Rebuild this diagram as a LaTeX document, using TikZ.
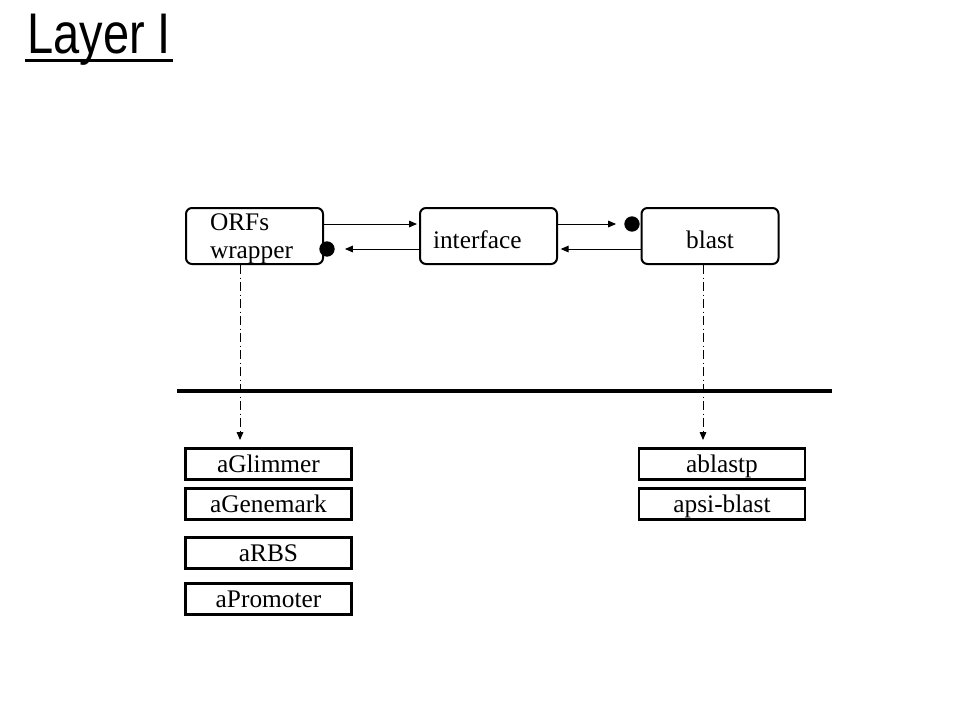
\documentclass[tikz,border=0pt]{standalone}
\usepackage{fontspec}
\setmainfont{Liberation Serif}
\newfontfamily\titlefont{Liberation Sans}
\usetikzlibrary{arrows.meta}

\begin{document}
\begin{tikzpicture}[x=0.75pt,y=-0.75pt,
    >={Triangle[length=6pt,width=5pt]},
    compbox/.style={draw,line width=1.5pt,rounded corners=4.5pt,minimum width=102.75pt,minimum height=42pt,inner sep=0pt,font=\fontsize{19}{20.5}\selectfont},
    oneline/.style={text height=19pt,text depth=1pt},
    adapter/.style={draw,line width=2pt,minimum width=124.5pt,minimum height=23.25pt,inner sep=0pt,text height=15pt,text depth=3pt,font=\fontsize{19}{20.5}\selectfont},
    plug/.style={circle,fill,minimum size=11.5pt,inner sep=0pt},
    calls/.style={line width=0.75pt,dash pattern=on 7pt off 2.5pt on 0.75pt off 2.5pt,->}]
  \useasboundingbox (0,0) rectangle (959,719);
  % title
  \node[font=\titlefont\fontsize{43}{43}\selectfont,xscale=0.82,anchor=base west,inner sep=0pt] (title) at (27,53) {Layer I};
  \draw[line width=2.25pt] ([xshift=-1.5pt,yshift=-5.5pt]title.base west) -- ([xshift=1.5pt,yshift=-5.5pt]title.base east);
  % components
  \node[compbox,text width=66.75pt,align=left] (orfs) at (254.5,236) {\rule{0pt}{17pt}ORFs\\wrapper};
  \node[compbox,oneline,text width=83.25pt,align=left] (iface) at (488.5,236) {interface};
  \node[compbox,oneline] (blast) at (710,236) {blast};
  \node[plug] (orfsplug) at (327,249) {};
  \node[plug] (blastplug) at (632,224) {};
  \draw[line width=0.75pt,->] ([yshift=9pt]orfs.east) -- ([yshift=9pt,xshift=-1.5pt]iface.west);
  \draw[line width=0.75pt,->] ([yshift=-9.75pt]iface.west) -- ([xshift=7.5pt]orfsplug.east);
  \draw[line width=0.75pt,->] ([yshift=9pt]iface.east) -- ([xshift=-6pt]blastplug.west);
  \draw[line width=0.75pt,->] ([yshift=-9.75pt]blast.west) -- ([yshift=-9.75pt,xshift=2pt]iface.east);
  % layer boundary
  \coordinate (busleft) at (177,391);
  \coordinate (busright) at (832,391);
  \draw[line width=3pt] (busleft) -- (busright);
  \coordinate (orfsend) at (240,440);
  \coordinate (blastend) at (703,440);
  \draw[calls] (orfsend |- orfs.south) -- (orfsend);
  \draw[calls] (blastend |- blast.south) -- (blastend);
  % adapters
  \node[adapter] (glimmer) at (268.5,464) {aGlimmer};
  \node[adapter] (genemark) at (268.5,504) {aGenemark};
  \node[adapter] (rbs) at (268.5,553) {aRBS};
  \node[adapter] (promoter) at (268.5,599) {aPromoter};
  \node[adapter] (blastp) at (722,464) {ablastp};
  \node[adapter] (psiblast) at (722,504) {apsi-blast};
\end{tikzpicture}
\end{document}
